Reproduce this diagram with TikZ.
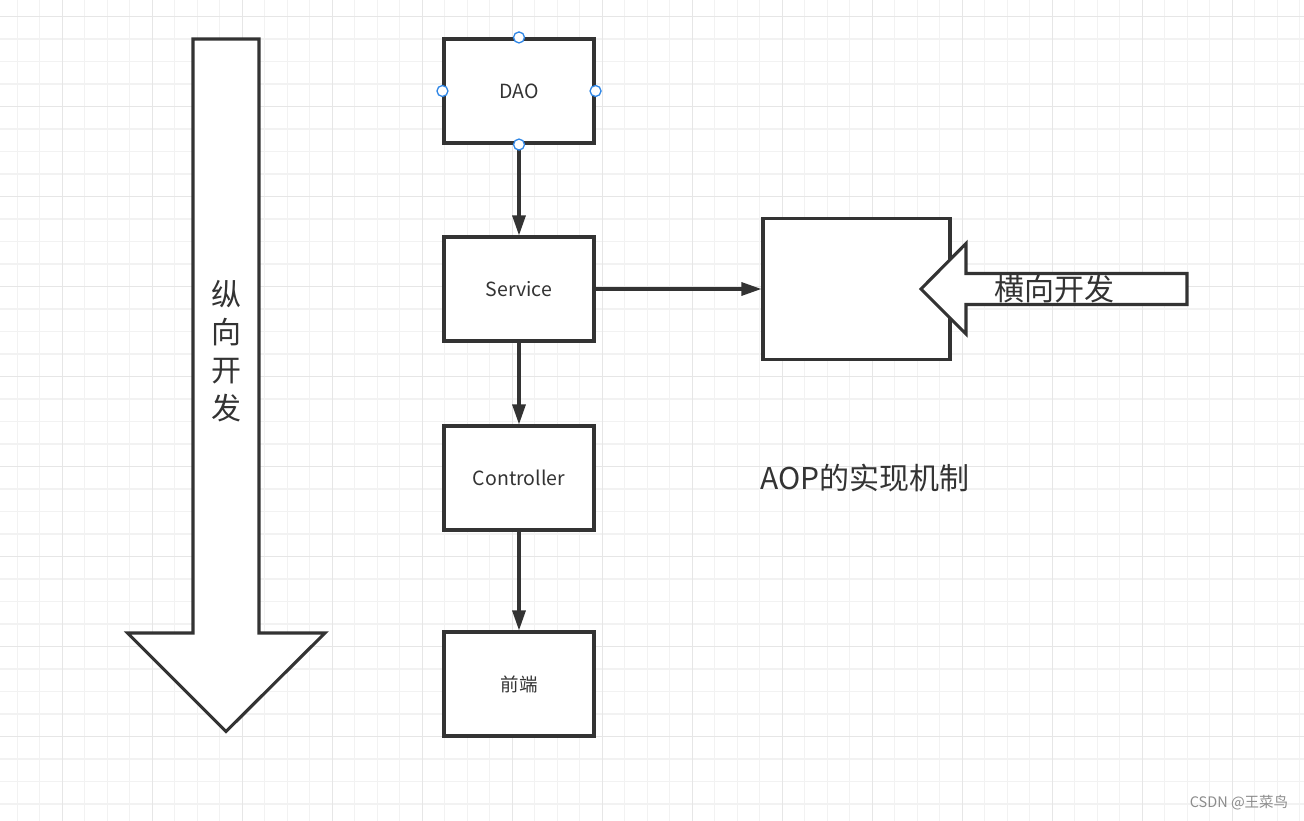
\documentclass[tikz,border=0pt]{standalone}
\usepackage{fontspec}
\setmainfont{Noto Sans CJK SC}
\usetikzlibrary{arrows.meta}
\definecolor{ink}{HTML}{333333}
\definecolor{gridminor}{HTML}{F2F2F2}
\definecolor{gridmajor}{HTML}{E6E6E6}
\definecolor{handleblue}{HTML}{2F86E6}
\definecolor{wm}{HTML}{8C8C8C}
\tikzset{
  box/.style={draw=ink, line width=3.1pt, fill=white, minimum width=150pt, minimum height=104pt, inner sep=0pt, text=ink, font=\fontsize{19.5}{23}\selectfont},
  conn/.style={draw=ink, line width=3.1pt, -{Triangle[length=20pt,width=13pt]}},
  bigarrow/.style={draw=ink, line width=3.1pt, fill=white, line join=miter},
  handle/.style={circle, draw=handleblue, fill=white, line width=1.3pt, minimum size=11pt, inner sep=0pt},
  lbl/.style={text=ink, inner sep=0pt}
}
\begin{document}
\begin{tikzpicture}[x=1pt,y=-1pt]
\useasboundingbox (0,0) rectangle (1304,821);
\fill[white] (0,0) rectangle (1304,821);
% grid
\foreach \i in {0,...,57} \draw[gridminor, line width=1.3pt] ({17.3+22.5*\i},0) -- ({17.3+22.5*\i},821);
\foreach \i in {0,...,35} \draw[gridminor, line width=1.3pt] (0,{16.5+22.5*\i}) -- (1304,{16.5+22.5*\i});
\foreach \i in {0,...,13} \draw[gridmajor, line width=1.3pt] ({62.3+90*\i},0) -- ({62.3+90*\i},821);
\foreach \i in {0,...,8} \draw[gridmajor, line width=1.3pt] (0,{16.5+90*\i}) -- (1304,{16.5+90*\i});

% vertical big arrow
\draw[bigarrow] (193,39) -- (259,39) -- (259,633) -- (325,633) -- (226,731.5) -- (127.5,633) -- (193,633) -- cycle;
\node[lbl, font=\fontsize{30}{38}\selectfont, align=center] (vert) at (226,351) {纵\\向\\开\\发};

% boxes
\node[box] (dao) at (519,91) {DAO};
\node[box] (svc) at (519,289) {Service};
\node[box] (ctl) at (519,478) {Controller};
\node[box, font=\fontsize{18.5}{22}\selectfont] (fe) at (519,684) {前端};
\node[box, minimum width=187pt, minimum height=141pt] (aop) at (856.5,289) {};

% connectors
\draw[conn] (dao.south) -- (svc.north);
\draw[conn] (svc.south) -- (ctl.north);
\draw[conn] (ctl.south) -- (fe.north);
\draw[conn] (svc.east) -- (aop.west);

% horizontal big arrow
\draw[bigarrow] (1187,273.5) -- (966,273.5) -- (966,243.5) -- (921,289) -- (966,334) -- (966,304.5) -- (1187,304.5) -- cycle;
\node[lbl, font=\fontsize{30}{36}\selectfont] (horiz) at (1054,289) {横向开发};

% caption
\node[lbl, font=\fontsize{30}{36}\selectfont] (cap) at (865,478) {AOP的实现机制};

% selection handles
\node[handle] (h1) at (dao.north) {};
\node[handle] (h2) at (dao.west) {};
\node[handle] (h3) at (dao.east) {};
\node[handle] (h4) at (dao.south) {};

% watermark
\node[text=wm, inner sep=0pt, font=\fontsize{14.5}{17}\selectfont] (wmk) at (1239,803) {CSDN @王菜鸟};
\end{tikzpicture}
\end{document}
